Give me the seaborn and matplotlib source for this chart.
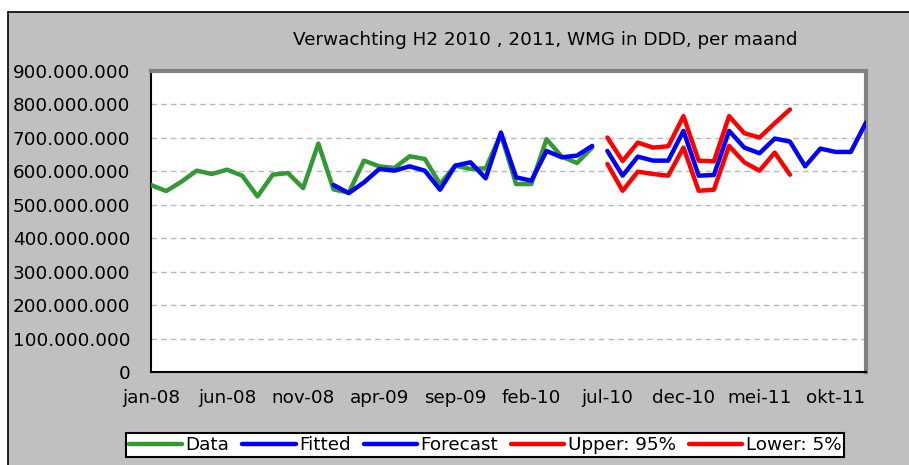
import numpy as np
import pandas as pd
import matplotlib
matplotlib.use("Agg")
import matplotlib.pyplot as plt
import seaborn as sns
from matplotlib.lines import Line2D
from matplotlib.patches import Rectangle

# ---------------- data ----------------
months = ["jan-08", "feb-08", "mrt-08", "apr-08", "mei-08", "jun-08", "jul-08", "aug-08", "sep-08", "okt-08", "nov-08", "dec-08",
          "jan-09", "feb-09", "mrt-09", "apr-09", "mei-09", "jun-09", "jul-09", "aug-09", "sep-09", "okt-09", "nov-09", "dec-09",
          "jan-10", "feb-10", "mrt-10", "apr-10", "mei-10", "jun-10", "jul-10", "aug-10", "sep-10", "okt-10", "nov-10", "dec-10",
          "jan-11", "feb-11", "mrt-11", "apr-11", "mei-11", "jun-11", "jul-11", "aug-11", "sep-11", "okt-11", "nov-11", "dec-11"]

data_vals = [559, 541, 569, 602, 592, 605, 587, 525, 590, 595, 550, 683,
             546, 536, 632, 615, 610, 645, 637, 562, 617, 607, 609, 711,
             562, 562, 696, 644, 625, 671]                      # jan-08 .. jun-10 (millions)
fitted_vals = [559, 535, 567, 607, 602, 615, 602, 545, 617, 627, 579, 716,
               582, 572, 661, 642, 647, 676]                    # jan-09 .. jun-10
forecast_vals = [661, 587, 644, 632, 632, 721, 587, 589, 721, 671, 654, 698,
                 689, 615, 668, 658, 658, 746]                  # jul-10 .. dec-11
upper_vals = [701, 631, 686, 671, 675, 765, 632, 630, 765, 714, 701, 744, 785]   # jul-10 .. jul-11
lower_vals = [622, 542, 599, 592, 587, 671, 542, 545, 676, 627, 602, 656, 590]   # jul-10 .. jul-11

series_names = ["Data", "Fitted", "Forecast", "Upper: 95%", "Lower: 5%"]
series_colors = ["#339933", "#0000FF", "#0000FF", "#FF0000", "#FF0000"]
tick_labels = ["jan-08", "jun-08", "nov-08", "apr-09", "sep-09", "feb-10", "jul-10", "dec-10", "mei-11", "okt-11"]
title = "Verwachting H2 2010 , 2011, WMG in DDD, per maand"

# ---------------- table ----------------
starts = [0, 12, 30, 30, 30]
all_vals = [data_vals, fitted_vals, forecast_vals, upper_vals, lower_vals]
rows = []
for name, st, vals in zip(series_names, starts, all_vals):
    for k, v in enumerate(vals):
        rows.append({"idx": st + k, "value": v * 1e6, "series": name})
df = pd.DataFrame(rows)

# ---------------- figure ----------------
sns.set_style("white")
plt.rcParams["font.family"] = ["DejaVu Sans"]
plt.rcParams["text.color"] = "black"
FS = 13.2
W, H = 909, 465
fig = plt.figure(figsize=(W / 100, H / 100), dpi=100, facecolor="white")

# grey chart area with black left/top edge
bg = Rectangle((8 / W, 0), 1.0, 1 - 12 / H, transform=fig.transFigure,
               facecolor="#C0C0C0", edgecolor="none", zorder=-10)
fig.patches.append(bg)
fig.add_artist(Line2D([8 / W, 8 / W], [0, 1 - 12 / H], transform=fig.transFigure, color="black", lw=1.2))
fig.add_artist(Line2D([8 / W, 1], [1 - 12 / H, 1 - 12 / H], transform=fig.transFigure, color="black", lw=1.2))

left, right, top, bottom = 151, 866, 71, 372
ax = fig.add_axes([left / W, (H - bottom) / H, (right - left) / W, (bottom - top) / H])
ax.set_facecolor("white")

pal = dict(zip(series_names, series_colors))
sns.lineplot(data=df, x="idx", y="value", hue="series", palette=pal, hue_order=series_names,
             linewidth=3.2, estimator=None, sort=True, legend=False, ax=ax, zorder=3)

ax.set_xlim(0, len(months) - 1)
ax.set_ylim(0, 900e6)
yt = np.arange(0, 900e6 + 1, 100e6)
ax.set_yticks(yt)
ax.set_yticklabels([f"{v:,.0f}".replace(",", ".") for v in yt])
ax.set_xticks([months.index(m) for m in tick_labels])
ax.set_xticklabels(tick_labels)
ax.set_xticks(np.arange(len(months)), minor=True)
ax.set_xlabel("")
ax.set_ylabel("")

for v in yt[1:-1]:
    ax.axhline(v, color="#B8B8B8", lw=1.0, ls=(0, (4, 3)), zorder=1)

ax.tick_params(axis="both", which="both", direction="out", colors="black", labelcolor="black", labelsize=FS)
ax.tick_params(axis="y", length=6, width=1, pad=9)
ax.tick_params(axis="x", which="major", length=6, width=1, pad=6)
ax.tick_params(axis="x", which="minor", length=4, width=1)

for s in ["left", "bottom"]:
    ax.spines[s].set_color("black")
    ax.spines[s].set_linewidth(1.5)
for s in ["top", "right"]:
    ax.spines[s].set_color("#808080")
    ax.spines[s].set_linewidth(3)

fig.text(545 / W, 1 - 40 / H, title, ha="center", va="center", fontsize=FS, color="black")

handles = [Line2D([], [], color=c, lw=3.2) for c in series_colors]
leg = fig.legend(handles, series_names, ncol=5, loc="center",
                 bbox_to_anchor=(485 / W, 1 - 445 / H), fontsize=FS,
                 frameon=True, fancybox=False, edgecolor="black", framealpha=1,
                 handlelength=2.9, handletextpad=0.2, columnspacing=0.7,
                 borderpad=0.15, borderaxespad=0)
leg.get_frame().set_linewidth(1.5)
for t in leg.get_texts():
    t.set_color("black")

fig.savefig("out.png", dpi=100, facecolor=fig.get_facecolor())
